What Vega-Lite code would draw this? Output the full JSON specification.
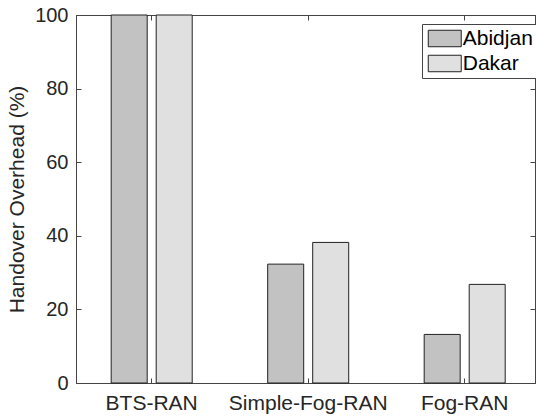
{
  "$schema": "https://vega.github.io/schema/vega-lite/v6.json",
  "width": 459,
  "height": 368,
  "autosize": {"type": "none"},
  "padding": {"left": 76, "top": 15, "right": 1, "bottom": 35},
  "data": {
    "values": [
      {"Scheme": "BTS-RAN", "City": "Abidjan", "Value": 100},
      {"Scheme": "BTS-RAN", "City": "Dakar", "Value": 100},
      {"Scheme": "Simple-Fog-RAN", "City": "Abidjan", "Value": 32.3},
      {"Scheme": "Simple-Fog-RAN", "City": "Dakar", "Value": 38.2},
      {"Scheme": "Fog-RAN", "City": "Abidjan", "Value": 13.2},
      {"Scheme": "Fog-RAN", "City": "Dakar", "Value": 26.8}
    ]
  },
  "config": {
    "view": {"stroke": "#444", "strokeWidth": 1},
    "font": "Liberation Sans",
    "axis": {
      "grid": false,
      "domainColor": "#444",
      "tickColor": "#444",
      "labelColor": "#262626",
      "titleColor": "#262626",
      "labelFont": "Liberation Sans",
      "titleFont": "Liberation Sans",
      "labelFontSize": 20,
      "titleFontSize": 21,
      "titleFontWeight": "normal"
    }
  },
  "resolve": {"axis": {"x": "independent", "y": "independent"}},
  "layer": [
    {
      "mark": {"type": "bar", "stroke": "#222", "strokeWidth": 1},
      "encoding": {
        "x": {
          "field": "Scheme",
          "type": "nominal",
          "sort": ["BTS-RAN", "Simple-Fog-RAN", "Fog-RAN"],
          "scale": {"paddingInner": 0.1014, "paddingOuter": 0.0172, "align": 1},
          "axis": {"title": null, "labelAngle": 0, "tickSize": -5, "labelPadding": 14, "labelFontSize": 21}
        },
        "xOffset": {
          "field": "City",
          "type": "nominal",
          "scale": {"paddingInner": 0.2, "paddingOuter": 0.662}
        },
        "y": {
          "field": "Value",
          "type": "quantitative",
          "scale": {"domain": [0, 100], "nice": false},
          "axis": {"title": "Handover Overhead (%)", "values": [0, 20, 40, 60, 80, 100], "tickSize": -5, "labelPadding": 13, "titlePadding": 7}
        },
        "color": {
          "field": "City",
          "type": "nominal",
          "scale": {"domain": ["Abidjan", "Dakar"], "range": ["#c2c2c2", "#e0e0e0"]},
          "legend": {
            "orient": "none",
            "legendX": 346,
            "legendY": 9,
            "title": null,
            "symbolType": "M-2,-1H2V1H-2Z",
            "symbolSize": 272,
            "symbolOffset": 8.25,
            "symbolStrokeColor": "#222",
            "symbolStrokeWidth": 1,
            "labelFontSize": 21,
            "labelFont": "Liberation Sans",
            "labelColor": "#000",
            "strokeColor": "#444",
            "fillColor": "#fff",
            "padding": 4,
            "rowPadding": 3,
            "labelOffset": 7.5
          }
        }
      }
    },
    {
      "mark": {"type": "tick", "opacity": 0},
      "encoding": {
        "x": {
          "field": "Scheme",
          "type": "nominal",
          "sort": ["BTS-RAN", "Simple-Fog-RAN", "Fog-RAN"],
          "axis": {"orient": "top", "title": null, "labels": false, "tickSize": -5}
        },
        "y": {
          "field": "Value",
          "type": "quantitative",
          "axis": {"orient": "right", "title": null, "labels": false, "values": [0, 20, 40, 60, 80, 100], "tickSize": -5}
        }
      }
    }
  ]
}
